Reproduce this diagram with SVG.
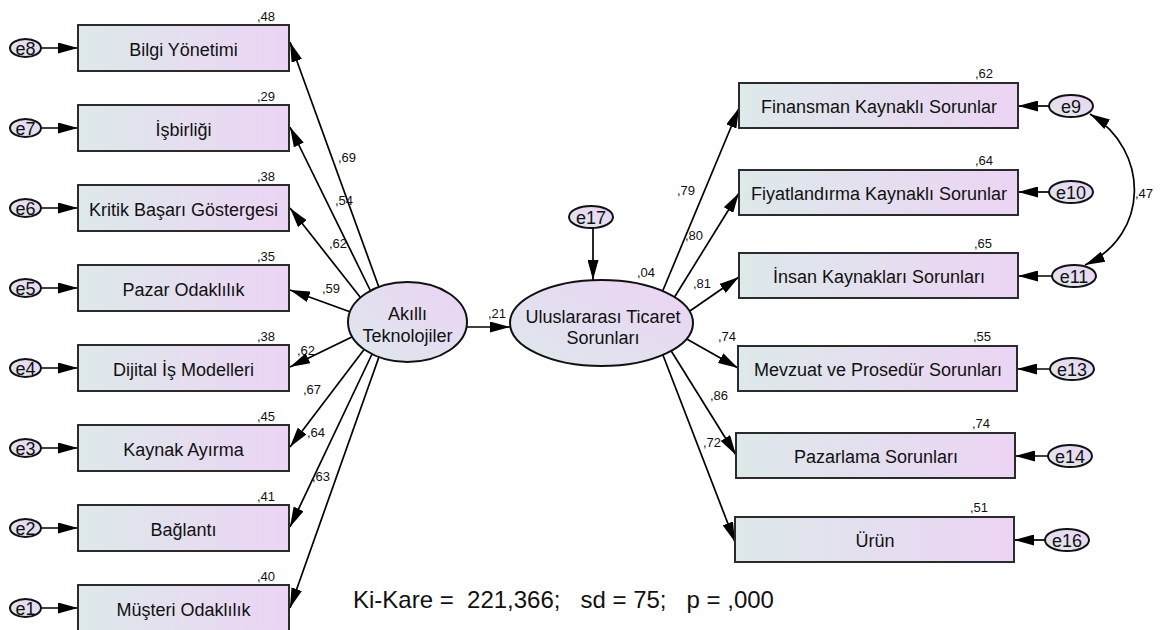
<svg xmlns="http://www.w3.org/2000/svg" width="1163" height="630" viewBox="0 0 1163 630">
<defs>
<linearGradient id="gb" x1="0" y1="0" x2="1" y2="0">
<stop offset="0" stop-color="#dde9ea"/>
<stop offset="1" stop-color="#ecd4f4"/>
</linearGradient>
<linearGradient id="ge" x1="0" y1="1" x2="1" y2="0">
<stop offset="0" stop-color="#dde8ec"/>
<stop offset="1" stop-color="#ecd3f4"/>
</linearGradient>
<marker id="ah" viewBox="0 0 20 11" refX="20" refY="5.5" markerWidth="20" markerHeight="11" markerUnits="userSpaceOnUse" orient="auto-start-reverse">
<path d="M0,0 L20,5.5 L0,11 z" fill="#000"/>
</marker>
</defs>
<style>
.box{fill:url(#gb);stroke:#2b2b2b;stroke-width:2}
.ell{fill:url(#ge);stroke:#111;stroke-width:2}
.c{fill:none;stroke:#000;stroke-width:1.7;marker-end:url(#ah)}
.t{font-family:"Liberation Sans",Arial,sans-serif;font-size:18px;fill:#111;text-anchor:middle}
.v{font-family:"Liberation Sans",Arial,sans-serif;font-size:13px;fill:#111}
.vr{font-family:"Liberation Sans",Arial,sans-serif;font-size:13px;fill:#111;text-anchor:end}
.et{font-family:"Liberation Sans",Arial,sans-serif;font-size:18px;fill:#111;text-anchor:middle}
</style>
<g id="connectors">
<line class="c" x1="381" y1="293" x2="290" y2="42"/>
<line class="c" x1="374" y1="298" x2="290" y2="127"/>
<line class="c" x1="364" y1="302" x2="290" y2="208"/>
<line class="c" x1="356" y1="314" x2="290" y2="290"/>
<line class="c" x1="356" y1="335" x2="290" y2="367"/>
<line class="c" x1="366" y1="347" x2="290" y2="447"/>
<line class="c" x1="373" y1="352" x2="290" y2="527"/>
<line class="c" x1="380" y1="354" x2="290" y2="608"/>
<line class="c" x1="41" y1="48" x2="78" y2="48"/>
<line class="c" x1="41" y1="128" x2="78" y2="128"/>
<line class="c" x1="41" y1="208" x2="78" y2="208"/>
<line class="c" x1="41" y1="288" x2="78" y2="288"/>
<line class="c" x1="41" y1="368" x2="78" y2="368"/>
<line class="c" x1="41" y1="448" x2="78" y2="448"/>
<line class="c" x1="41" y1="528" x2="78" y2="528"/>
<line class="c" x1="41" y1="608" x2="78" y2="608"/>
<line class="c" x1="460" y1="327" x2="510" y2="327"/>
<line class="c" x1="593" y1="228" x2="593" y2="280"/>
<line class="c" x1="661" y1="295" x2="739" y2="108"/>
<line class="c" x1="674" y1="298" x2="739" y2="193"/>
<line class="c" x1="687" y1="313" x2="739" y2="277"/>
<line class="c" x1="685" y1="338" x2="738" y2="368"/>
<line class="c" x1="670" y1="349" x2="736" y2="455"/>
<line class="c" x1="661" y1="350" x2="735" y2="542"/>
<line class="c" x1="1049" y1="106" x2="1018" y2="106"/>
<line class="c" x1="1049" y1="192" x2="1018" y2="192"/>
<line class="c" x1="1052" y1="276" x2="1018" y2="276"/>
<line class="c" x1="1050" y1="369" x2="1017" y2="369"/>
<line class="c" x1="1048" y1="456" x2="1015" y2="456"/>
<line class="c" x1="1045" y1="540" x2="1014" y2="540"/>
<path class="c" d="M1085,265 C1150,235 1150,150 1090,114" marker-start="url(#ah)"/>
<text class="v" x="338" y="162">,69</text>
<text class="v" x="335" y="205">,54</text>
<text class="v" x="329" y="248">,62</text>
<text class="v" x="322" y="293">,59</text>
<text class="v" x="297" y="355">,62</text>
<text class="v" x="303" y="394">,67</text>
<text class="v" x="307" y="437">,64</text>
<text class="v" x="312" y="481">,63</text>
<text class="v" x="488" y="318">,21</text>
<text class="v" x="677" y="195">,79</text>
<text class="v" x="685" y="240">,80</text>
<text class="v" x="693" y="288">,81</text>
<text class="v" x="718" y="341">,74</text>
<text class="v" x="710" y="400">,86</text>
<text class="v" x="703" y="447">,72</text>
<text class="v" x="1135" y="198">,47</text>
</g>
<g id="n-bilgi"><rect class="box" x="78" y="25" width="211" height="46"/><text class="t" x="183.5" y="55.5">Bilgi Yönetimi</text><text class="vr" x="275" y="21">,48</text></g>
<g id="n-isbirligi"><rect class="box" x="78" y="105" width="211" height="46"/><text class="t" x="183.5" y="135.5">İşbirliği</text><text class="vr" x="275" y="101">,29</text></g>
<g id="n-kritik"><rect class="box" x="78" y="185" width="211" height="46"/><text class="t" x="183.5" y="215.5">Kritik Başarı Göstergesi</text><text class="vr" x="275" y="181">,38</text></g>
<g id="n-pazar"><rect class="box" x="78" y="265" width="211" height="46"/><text class="t" x="183.5" y="295.5">Pazar Odaklılık</text><text class="vr" x="275" y="261">,35</text></g>
<g id="n-dijital"><rect class="box" x="78" y="345" width="211" height="46"/><text class="t" x="183.5" y="375.5">Dijital İş Modelleri</text><text class="vr" x="275" y="341">,38</text></g>
<g id="n-kaynak"><rect class="box" x="78" y="425" width="211" height="46"/><text class="t" x="183.5" y="455.5">Kaynak Ayırma</text><text class="vr" x="275" y="421">,45</text></g>
<g id="n-baglanti"><rect class="box" x="78" y="505" width="211" height="46"/><text class="t" x="183.5" y="535.5">Bağlantı</text><text class="vr" x="275" y="501">,41</text></g>
<g id="n-musteri"><rect class="box" x="78" y="585" width="211" height="46"/><text class="t" x="183.5" y="615.5">Müşteri Odaklılık</text><text class="vr" x="275" y="581">,40</text></g>
<g id="e8"><ellipse class="ell" cx="25.5" cy="48" rx="15.5" ry="9"/><text class="et" x="25.5" y="54.5">e8</text></g>
<g id="e7"><ellipse class="ell" cx="25.5" cy="128" rx="15.5" ry="9"/><text class="et" x="25.5" y="134.5">e7</text></g>
<g id="e6"><ellipse class="ell" cx="25.5" cy="208" rx="15.5" ry="9"/><text class="et" x="25.5" y="214.5">e6</text></g>
<g id="e5"><ellipse class="ell" cx="25.5" cy="288" rx="15.5" ry="9"/><text class="et" x="25.5" y="294.5">e5</text></g>
<g id="e4"><ellipse class="ell" cx="25.5" cy="368" rx="15.5" ry="9"/><text class="et" x="25.5" y="374.5">e4</text></g>
<g id="e3"><ellipse class="ell" cx="25.5" cy="448" rx="15.5" ry="9"/><text class="et" x="25.5" y="454.5">e3</text></g>
<g id="e2"><ellipse class="ell" cx="25.5" cy="528" rx="15.5" ry="9"/><text class="et" x="25.5" y="534.5">e2</text></g>
<g id="e1"><ellipse class="ell" cx="25.5" cy="608" rx="15.5" ry="9"/><text class="et" x="25.5" y="614.5">e1</text></g>
<g id="n-akilli"><ellipse class="ell" cx="407.5" cy="322" rx="59.5" ry="40"/><text class="t" x="407.5" y="320">Akıllı</text><text class="t" x="407.5" y="342">Teknolojiler</text></g>
<g id="n-ulus"><ellipse class="ell" cx="601.5" cy="323" rx="91.5" ry="43"/><text class="t" x="603" y="323">Uluslararası Ticaret</text><text class="t" x="603" y="344">Sorunları</text><text class="v" x="637" y="277">,04</text></g>
<g id="e17"><ellipse class="ell" cx="591" cy="217" rx="22" ry="11"/><text class="et" x="591" y="223.5">e17</text></g>
<g id="n-finansman"><rect class="box" x="739" y="83" width="279" height="45"/><text class="t" x="879" y="113">Finansman Kaynaklı Sorunlar</text><text class="vr" x="993" y="78">,62</text></g>
<g id="n-fiyat"><rect class="box" x="739" y="170" width="279" height="45"/><text class="t" x="879" y="200">Fiyatlandırma Kaynaklı Sorunlar</text><text class="vr" x="993" y="165">,64</text></g>
<g id="n-insan"><rect class="box" x="739" y="253" width="279" height="45"/><text class="t" x="879" y="283">İnsan Kaynakları Sorunları</text><text class="vr" x="992" y="248">,65</text></g>
<g id="n-mevzuat"><rect class="box" x="738" y="346" width="279" height="45"/><text class="t" x="878" y="376">Mevzuat ve Prosedür Sorunları</text><text class="vr" x="991" y="341">,55</text></g>
<g id="n-pazarlama"><rect class="box" x="736" y="433" width="279" height="45"/><text class="t" x="876" y="463">Pazarlama Sorunları</text><text class="vr" x="990" y="428">,74</text></g>
<g id="n-urun"><rect class="box" x="735" y="517" width="279" height="45"/><text class="t" x="875" y="547">Ürün</text><text class="vr" x="988" y="512">,51</text></g>
<g id="e9"><ellipse class="ell" cx="1071" cy="106" rx="22" ry="11"/><text class="et" x="1071" y="112.5">e9</text></g>
<g id="e10"><ellipse class="ell" cx="1071" cy="192" rx="22" ry="11"/><text class="et" x="1071" y="198.5">e10</text></g>
<g id="e11"><ellipse class="ell" cx="1074" cy="276" rx="22" ry="11"/><text class="et" x="1074" y="282.5">e11</text></g>
<g id="e13"><ellipse class="ell" cx="1072" cy="369" rx="22" ry="11"/><text class="et" x="1072" y="375.5">e13</text></g>
<g id="e14"><ellipse class="ell" cx="1070" cy="456" rx="22" ry="11"/><text class="et" x="1070" y="462.5">e14</text></g>
<g id="e16"><ellipse class="ell" cx="1067" cy="540" rx="22" ry="11"/><text class="et" x="1067" y="546.5">e16</text></g>
<text x="353" y="608" xml:space="preserve" font-family="'Liberation Sans',Arial,sans-serif" font-size="24" fill="#111">Ki-Kare =  221,366;   sd = 75;   p = ,000</text>
</svg>
